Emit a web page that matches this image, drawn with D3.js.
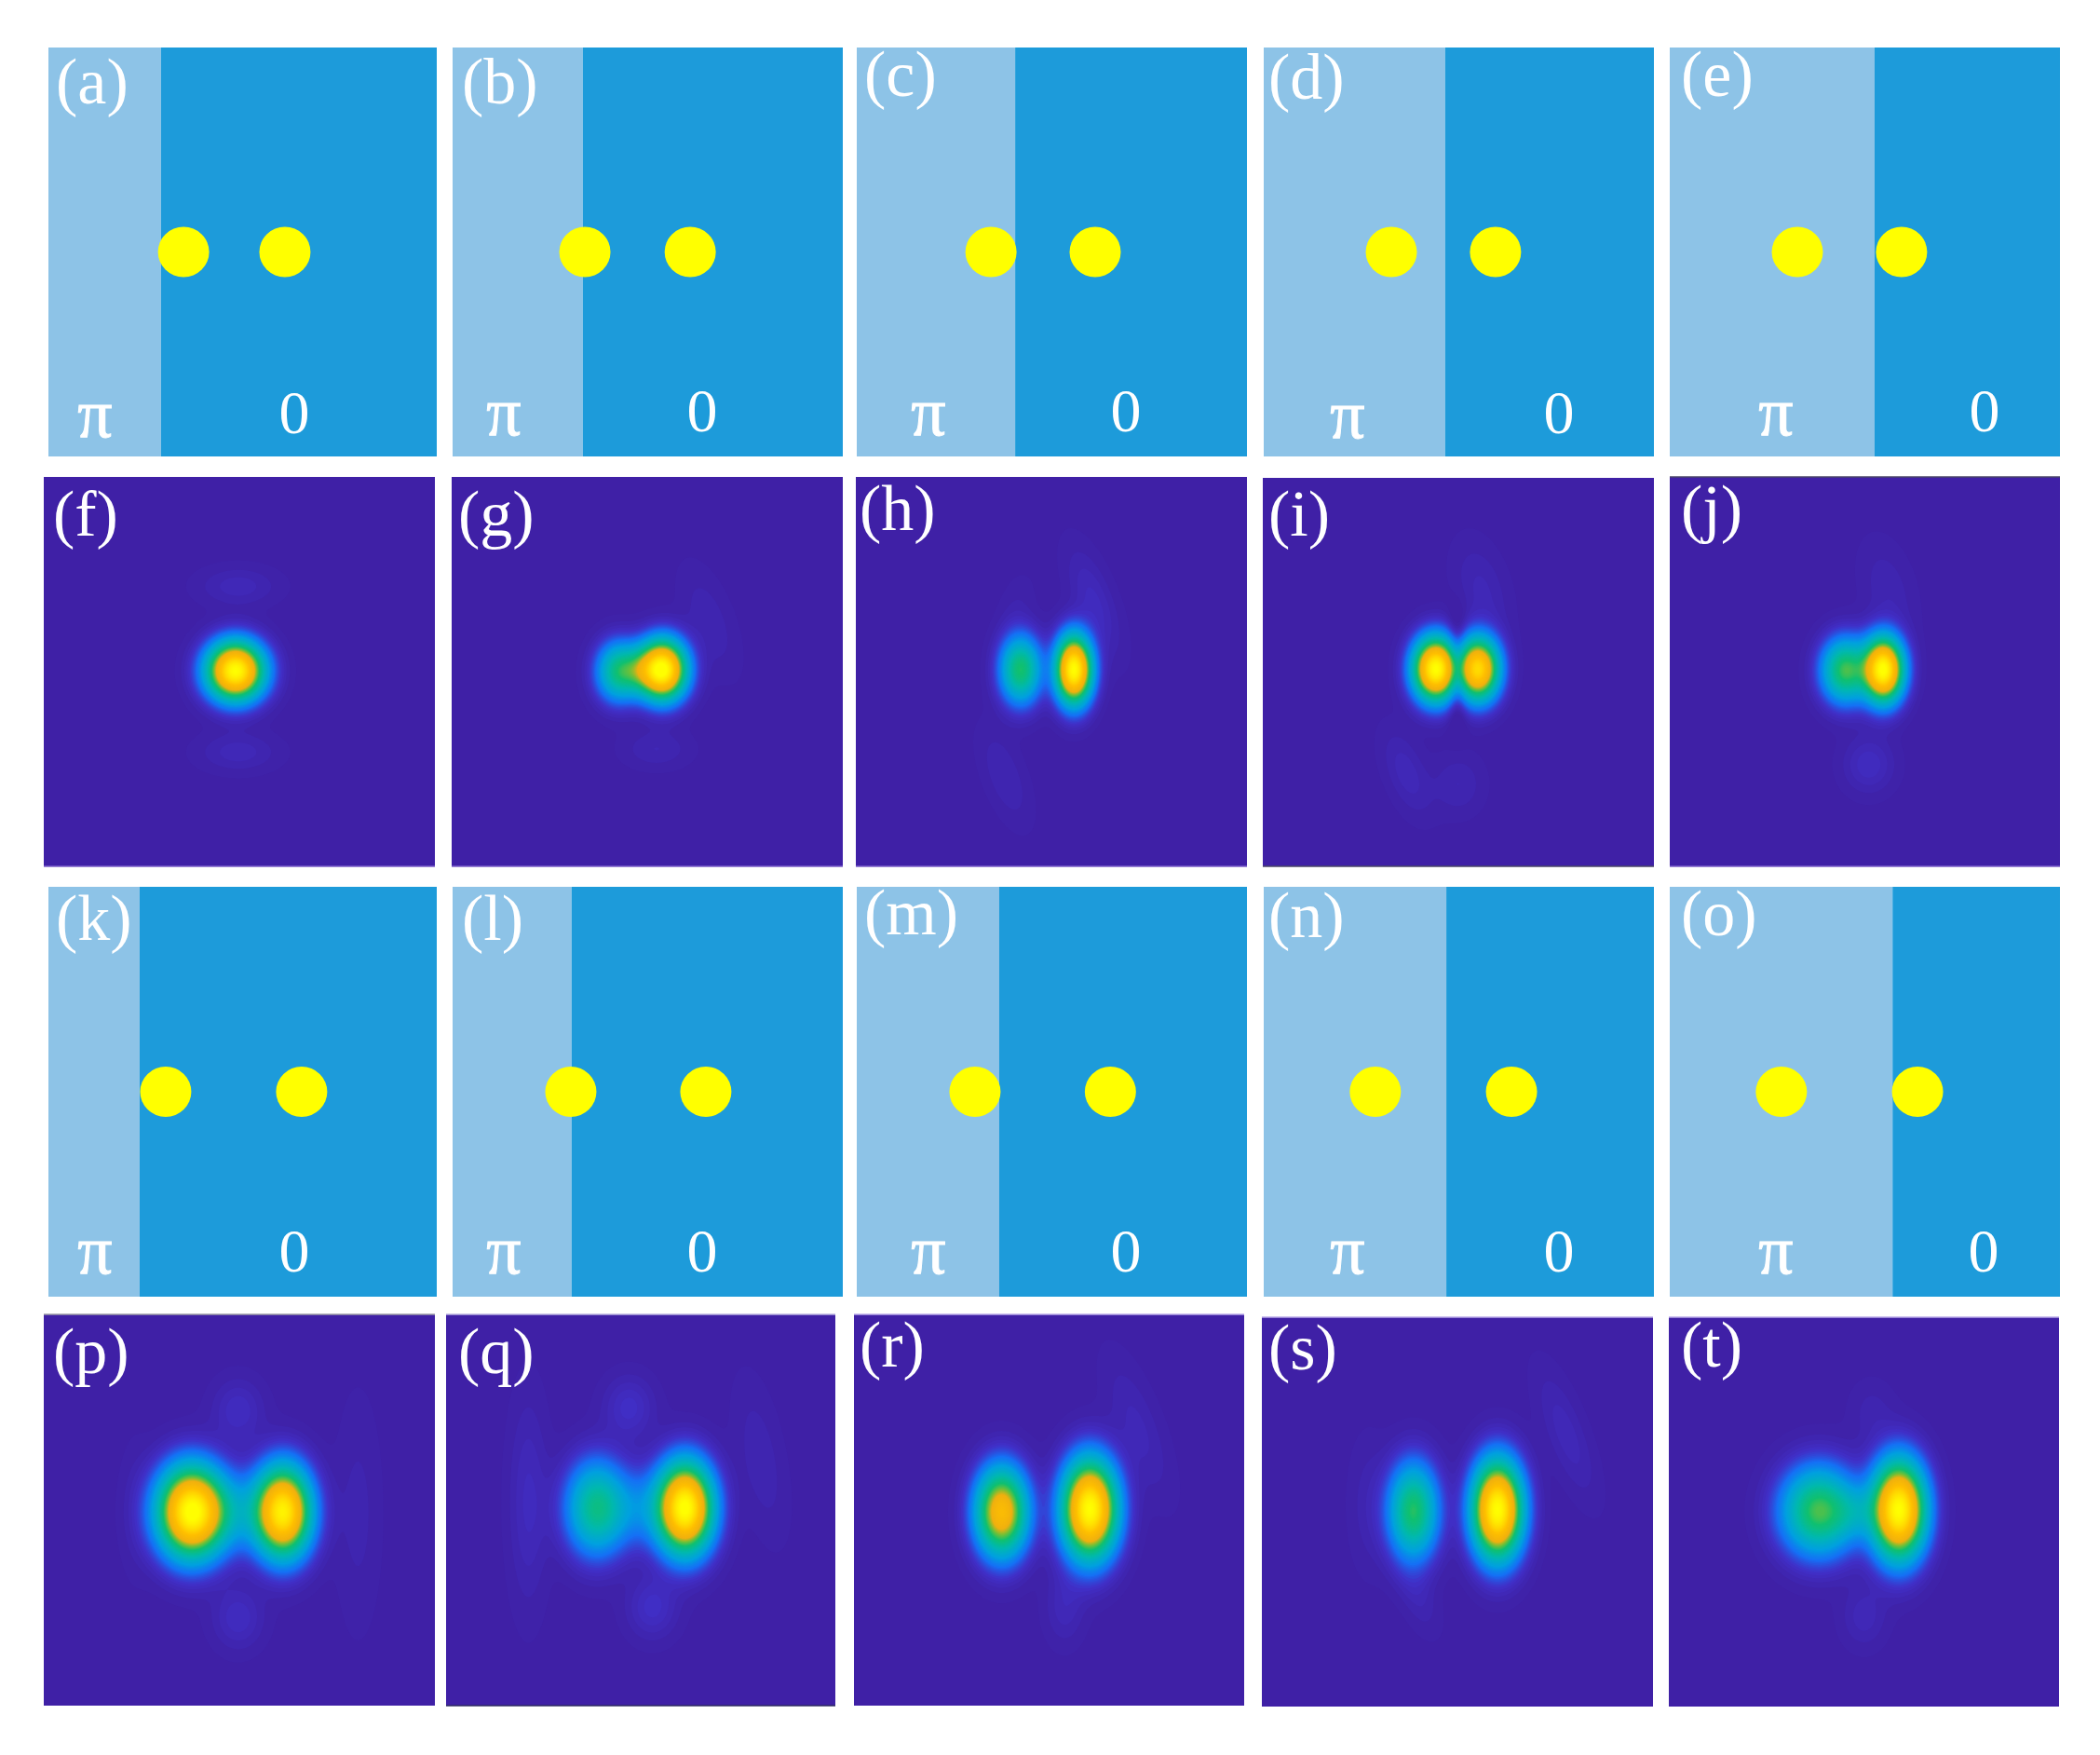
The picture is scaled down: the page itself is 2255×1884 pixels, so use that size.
<!DOCTYPE html>
<html>
<head>
<meta charset="utf-8">
<script src="https://cdnjs.cloudflare.com/ajax/libs/d3/7.8.5/d3.min.js"></script>
<style>
    body { margin: 0; background: #fff; }
    text { font-family: "Liberation Serif", serif; fill: #fff; }
</style>
</head>
<body>
<div id="chart"></div>
<script>
// panel letters, reading order
const phaseLetters = ["a", "b", "c", "d", "e", "k", "l", "m", "n", "o"];
const heatLetters = ["f", "g", "h", "i", "j", "p", "q", "r", "s", "t"];

// phase plates: where the pi/0 boundary sits, and the two spots (percent of panel width)
const phaseBoundary = [29, 33.4, 40.6, 46.5, 52.5, 23.5, 30.5, 36.5, 46.8, 57.1];
const spotLeft = [34.8, 33.9, 34.4, 32.7, 32.7, 30.2, 30.3, 30.3, 28.6, 28.6];
const spotRight = [60.9, 60.9, 61.1, 59.4, 59.4, 65.2, 64.9, 65, 63.5, 63.5];

// intensity maps: lobes [cx, cy, sx, sy, amp, angle], percent of panel
const lobes = {
    f: [[49, 49.8, 4.7, 4.8, 1, 0], [49.7, 28, 7, 3.5, 0.025, 0], [49.7, 70.8, 7, 3.5, 0.025, 0]],
    g: [[54, 49.5, 3.9, 4.9, 1, 0], [42.5, 50, 3.6, 4.9, 0.36, 0], [48, 49.7, 3.5, 4, 0.2, 0], [52.4, 70, 6, 3.5, 0.02, 0], [66, 37, 4, 10, 0.018, -20]],
    h: [[42.1, 49.5, 3.4, 5.6, 0.43, 0], [55.8, 49.5, 3, 5.6, 1, 0], [61, 32, 3.5, 10, 0.03, -20], [38, 77, 3.5, 9, 0.02, -20], [41, 33, 3, 6, 0.01, 15]],
    i: [[44.2, 49.2, 3.7, 5.2, 1, 0], [55.1, 49.2, 3.5, 5.2, 0.85, 0], [49.7, 49.2, 1.8, 7, -0.18, 0], [56, 29, 4.5, 9, 0.022, -15], [36.6, 76, 3.5, 8, 0.025, -20], [50, 79, 4.5, 5.5, 0.02, 0]],
    j: [[54.8, 49.5, 3.3, 5.3, 1, 0], [44.9, 49.7, 3.9, 5.3, 0.46, 0], [56, 29, 4.5, 9, 0.018, -15], [51, 74, 4.5, 5, 0.035, 0]],
    p: [[37.7, 50.5, 5.5, 7.4, 1, 0], [61.3, 50.5, 4.6, 7.4, 0.92, 0], [49.5, 50.5, 7, 6.5, 0.14, 0], [49.7, 24.4, 4.5, 5.5, 0.035, 0], [49.7, 77.7, 4.5, 5.5, 0.035, 0], [80.5, 51, 4, 20, 0.015, 0], [23, 50, 3, 14, 0.008, 0]],
    q: [[61.5, 49.5, 4.6, 7.4, 1, 0], [38.5, 49.5, 5, 7.7, 0.37, 0], [50, 49.5, 6, 6.5, 0.11, 0], [47, 23.7, 4.5, 5.5, 0.04, 0], [53, 75, 4.5, 5.5, 0.04, 0], [21, 48, 3.5, 18, 0.03, 0], [81, 37, 4, 14, 0.018, -10]],
    r: [[37.8, 50.5, 4.3, 7.3, 0.7, 0], [60.5, 49.8, 4.5, 8, 1, 0], [73, 29, 4, 13, 0.022, -20], [54, 75, 3.5, 6.5, 0.025, 0]],
    s: [[38.7, 49.8, 4.1, 7.9, 0.44, 0], [60.3, 49.5, 4.1, 8, 1, 0], [78, 30, 3.5, 12, 0.025, -20], [27, 48, 3.5, 12, 0.015, 0], [40, 72, 3, 7, 0.018, -20]],
    t: [[38.4, 49.8, 6.2, 7.3, 0.47, 0], [59, 49.5, 4.4, 8, 1, 0], [48, 50, 4, 4.5, 0.1, 0], [50, 77, 4, 5.5, 0.025, 0], [52, 24, 4, 5.5, 0.015, 0]]
};

// colour map of the intensity maps
const colorLevels = [0, 0.04, 0.1, 0.18, 0.3, 0.42, 0.5, 0.58, 0.75, 1];
const colorValues = ["#3f20a6", "#4030c8", "#1570f5", "#00a0e0", "#00b8b0", "#10c070", "#70c038", "#f0b010", "#ffc000", "#ffff00"];

// page layout, px
const phaseX = [[52, 469], [486, 905], [920, 1339], [1357, 1776], [1793, 2212]];
const heatTopX = [[47, 467], [485, 905], [919, 1339], [1356, 1776], [1793, 2212]];
const heatBottomX = [[47, 467], [479, 897], [917, 1336], [1355, 1775], [1792, 2211]];
const phaseY = [[51, 490], [952, 1392]];
const heatTopY = [[512, 930], [512, 930], [512, 930], [513, 930], [512, 930]];
const heatBottomY = [[1411, 1831], [1411, 1831], [1411, 1831], [1414, 1832], [1414, 1832]];
const labelX = [60, 496, 928, 1362, 1805, 60, 496, 928, 1362, 1805];
const labelY = [111, 111, 103, 106, 103, 1009, 1009, 1003, 1006, 1004];
const heatLabelX = [57, 492, 923, 1362, 1805, 57, 492, 923, 1362, 1805];
const heatLabelY = [575, 575, 569, 575, 569, 1474, 1474, 1467, 1470, 1467];
const piBase = [469, 467, 467, 470, 467, 1367, 1367, 1367, 1367, 1367];
const zeroBase = [465, 463, 463, 465, 463, 1365, 1365, 1365, 1365, 1365];
const piX = [102, 541, 997, 1447, 1907, 102, 541, 997, 1447, 1907];
const zeroX = [316, 754, 1209, 1674, 2131, 316, 754, 1209, 1674, 2130];

// thin scan edges along the top and bottom of the intensity maps
const edgeTop = [null, null, null, null, "#4a4468", "#9a98a4", "#b8b0e0", "#b8a8e8", "#b8a8e8", "#b8a8e8"];
const edgeBottom = ["#7a5cc8", "#7a5cc8", "#7a5cc8", "#4a4468", "#7a5cc8", null, "#2e2a60", null, null, null];

const GRID = 210;
const FONT_SIZE = 70;
const ZERO_SIZE = 66;
const PI_SIZE = 74;

let svg = d3.select("#chart").append("svg")
    .attr("width", 2255)
    .attr("height", 1884);

let color = d3.scaleLinear().domain(colorLevels).range(colorValues).clamp(true);
let levels = d3.range(0.004, 1.0, 0.008);

// phase plates
phaseLetters.forEach((letter, i) => {
    let col = i % 5;
    let [y0, y1] = phaseY[Math.floor(i / 5)];
    let x = d3.scaleLinear().domain([0, 100]).range(phaseX[col]);
    let y = d3.scaleLinear().domain([0, 100]).range([y0, y1]);
    let g = svg.append("g").attr("class", "phase");

    g.append("rect")
        .attr("x", x(0)).attr("y", y0)
        .attr("width", x(phaseBoundary[i]) - x(0)).attr("height", y1 - y0)
        .attr("fill", "#8dc3e7");
    g.append("rect")
        .attr("x", x(phaseBoundary[i])).attr("y", y0)
        .attr("width", x(100) - x(phaseBoundary[i])).attr("height", y1 - y0)
        .attr("fill", "#1d9bda");

    g.selectAll("ellipse")
        .data([spotLeft[i], spotRight[i]])
        .join("ellipse")
        .attr("cx", d => x(d))
        .attr("cy", y(50))
        .attr("rx", 27.5)
        .attr("ry", 27)
        .attr("fill", "#ffff00");

    g.append("text").attr("x", labelX[i]).attr("y", labelY[i])
        .attr("font-size", FONT_SIZE).text("(" + letter + ")");
    g.append("text").attr("x", piX[i]).attr("y", piBase[i])
        .attr("text-anchor", "middle").attr("font-size", PI_SIZE)
        .style("stroke", "#fff").style("stroke-width", 1).text("π");
    g.append("text").attr("x", zeroX[i]).attr("y", zeroBase[i])
        .attr("text-anchor", "middle").attr("font-size", ZERO_SIZE).text("0");
});

// intensity at one point of a panel
function intensity(list, px, py) {
    let sum = 0;
    list.forEach(([cx, cy, sx, sy, amp, angle]) => {
        let a = angle * Math.PI / 180;
        let dx = px - cx, dy = py - cy;
        let u = dx * Math.cos(a) + dy * Math.sin(a);
        let v = -dx * Math.sin(a) + dy * Math.cos(a);
        sum += amp * Math.exp(-(u * u) / (2 * sx * sx) - (v * v) / (2 * sy * sy));
    });
    return sum;
}

// intensity maps
heatLetters.forEach((letter, i) => {
    let col = i % 5;
    let xr = i < 5 ? heatTopX[col] : heatBottomX[col];
    let yr = i < 5 ? heatTopY[col] : heatBottomY[col];
    let toPct = d3.scaleLinear().domain([0, GRID - 1]).range([0, 100]);

    let values = new Float64Array(GRID * GRID);
    for (let row = 0; row < GRID; row++) {
        for (let c = 0; c < GRID; c++) {
            values[row * GRID + c] = intensity(lobes[letter], toPct(c), toPct(row));
        }
    }

    let g = svg.append("g").attr("class", "heat");
    g.append("rect")
        .attr("x", xr[0]).attr("y", yr[0])
        .attr("width", xr[1] - xr[0]).attr("height", yr[1] - yr[0])
        .attr("fill", color(0));

    let contours = d3.contours().size([GRID, GRID]).thresholds(levels)(values);
    g.append("g")
        .attr("transform", "translate(" + xr[0] + "," + yr[0] + ") scale(" + (xr[1] - xr[0]) / GRID + "," + (yr[1] - yr[0]) / GRID + ")")
        .selectAll("path")
        .data(contours.filter(d => d.coordinates.length > 0))
        .join("path")
        .attr("d", d3.geoPath())
        .attr("fill", d => color(d.value));

    [[edgeTop[i], yr[0]], [edgeBottom[i], yr[1]]].forEach(([stroke, yy]) => {
        if (stroke) {
            g.append("line")
                .attr("x1", xr[0]).attr("x2", xr[1])
                .attr("y1", yy).attr("y2", yy)
                .attr("stroke", stroke).attr("stroke-width", 1.5);
        }
    });

    g.append("text").attr("x", heatLabelX[i]).attr("y", heatLabelY[i])
        .attr("font-size", FONT_SIZE).text("(" + letter + ")");
});
</script>
</body>
</html>
